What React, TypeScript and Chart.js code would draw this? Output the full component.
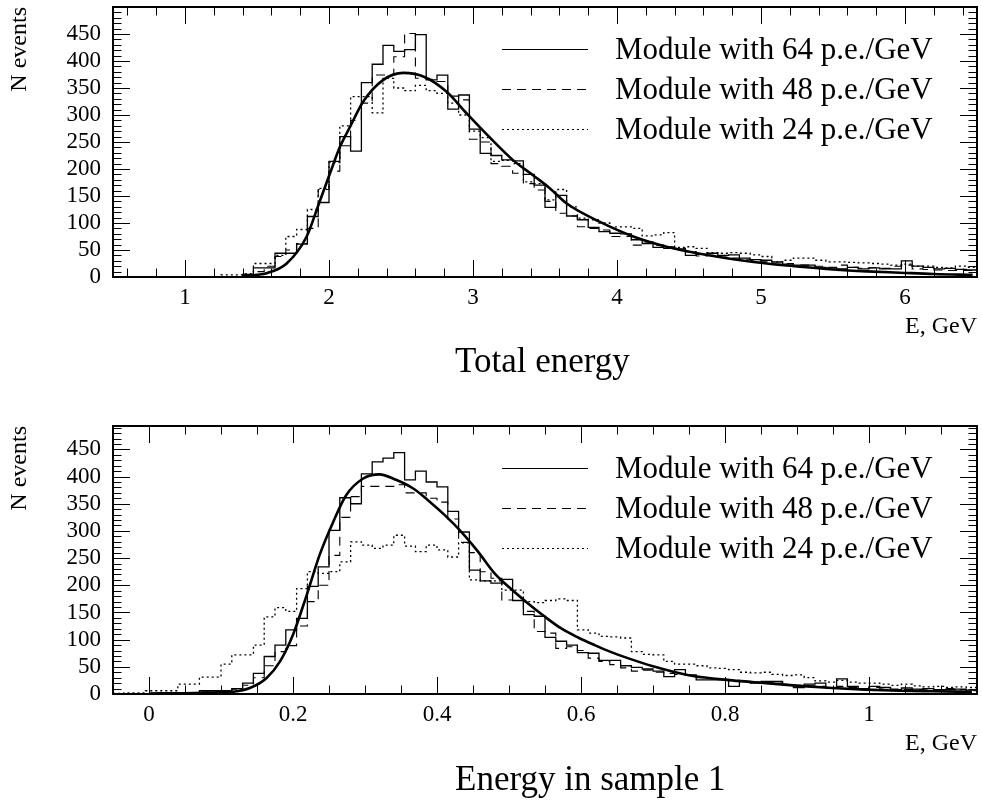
import React, { useEffect, useRef } from 'react';
import { Chart, registerables } from 'chart.js';

Chart.register(...registerables);

// ---------- common ----------
const SERIES_LABELS = ['Module with 64 p.e./GeV', 'Module with 48 p.e./GeV', 'Module with 24 p.e./GeV'];
const Y_TICKS = [0, 50, 100, 150, 200, 250, 300, 350, 400, 450];
const Y_TICK_LABELS = ['0', '50', '100', '150', '200', '250', '300', '350', '400', '450'];
const X_TITLE = 'E, GeV';
const Y_TITLE = 'N events';

// ---------- Total energy ----------
const E_TITLE = 'Total energy';
const E_BIN_LOW = 0.5;
const E_BIN_WIDTH = 0.075;
const E_X_MIN = 0.5;
const E_X_MAX = 6.5;
const E_Y_MAX = 500;
const E_X_TICKS = [1, 2, 3, 4, 5, 6];
const E_X_TICK_LABELS = ['1', '2', '3', '4', '5', '6'];
const E_X_MINOR_STEP = 0.2;

const E_64 = [
  0, 0, 0, 0, 0, 0, 0, 0, 0, 0,
  0, 0, 5, 17, 17, 44, 44, 61, 112, 138,
  214, 260, 233, 360, 394, 429, 418, 421, 449, 365,
  374, 311, 337, 274, 229, 225, 217, 215, 190, 170,
  129, 151, 113, 106, 92, 84, 81, 80, 69, 62,
  55, 53, 52, 40, 42, 44, 40, 41, 35, 32,
  31, 28, 24, 22, 22, 18, 17, 15, 18, 15,
  17, 15, 15, 30, 20, 18, 15, 16, 14, 13,
];
const E_48 = [
  0, 0, 0, 0, 0, 0, 0, 0, 0, 0,
  0, 0, 3, 10, 20, 38, 50, 62, 90, 162,
  196, 243, 290, 322, 374, 374, 408, 451, 368, 366,
  362, 335, 328, 255, 250, 210, 205, 192, 173, 161,
  140, 118, 113, 93, 90, 87, 75, 75, 59, 65,
  59, 56, 53, 47, 39, 40, 37, 35, 33, 30,
  28, 26, 25, 22, 22, 20, 18, 22, 18, 16,
  17, 16, 20, 22, 15, 14, 13, 12, 12, 12,
];
const E_24 = [
  0, 0, 0, 0, 0, 0, 0, 0, 0, 0,
  4, 4, 6, 25, 25, 40, 75, 88, 125, 164,
  212, 280, 334, 334, 304, 368, 350, 345, 355, 345,
  340, 322, 300, 270, 258, 214, 216, 210, 176, 173,
  143, 162, 130, 109, 106, 100, 93, 93, 90, 76,
  78, 82, 55, 56, 53, 45, 44, 45, 44, 41,
  38, 28, 31, 35, 35, 31, 28, 28, 27, 26,
  25, 24, 22, 24, 20, 20, 18, 17, 20, 18,
];
const E_FIT_X = [1.4, 1.5, 1.567, 1.706, 1.845, 1.926, 2.007, 2.076, 2.146, 2.238, 2.377, 2.516, 2.667, 2.817, 2.956, 3.118, 3.28, 3.419, 3.535, 3.651, 3.882, 4.113, 4.345, 4.576, 4.808, 5.04, 5.271, 5.502, 5.734, 5.965, 6.197, 6.47];
const E_FIT_Y = [1, 4, 7, 25, 75, 133, 192, 241, 278, 325, 365, 378, 370, 343, 303, 258, 216, 188, 164, 136, 102, 75, 56, 43, 33, 25, 19, 14, 10.5, 8, 5.5, 4];

// ---------- Energy in sample 1 ----------
const S_TITLE = 'Energy in sample 1';
const S_BIN_LOW = -0.05;
const S_BIN_WIDTH = 0.015;
const S_X_MIN = -0.05;
const S_X_MAX = 1.15;
const S_Y_MAX = 493;
const S_X_TICKS = [0, 0.2, 0.4, 0.6, 0.8, 1];
const S_X_TICK_LABELS = ['0', '0.2', '0.4', '0.6', '0.8', '1'];
const S_X_MINOR_STEP = 0.05;

const S_64 = [
  0, 0, 0, 0, 0, 0, 0, 0, 6, 6,
  6, 10, 20, 38, 69, 90, 118, 139, 198, 234,
  301, 361, 350, 405, 427, 434, 444, 394, 410, 390,
  381, 336, 298, 228, 208, 204, 211, 172, 146, 143,
  104, 97, 90, 76, 75, 62, 62, 52, 49, 46,
  42, 32, 45, 35, 26, 26, 26, 14, 23, 20,
  23, 23, 17, 12, 18, 20, 11, 28, 14, 10,
  14, 12, 8, 11, 9, 10, 8, 8, 9, 7,
];
const S_48 = [
  0, 0, 0, 0, 0, 0, 2, 2, 4, 5,
  5, 9, 16, 30, 52, 78, 89, 125, 170, 200,
  255, 325, 363, 382, 382, 382, 385, 370, 370, 360,
  353, 322, 279, 260, 225, 213, 173, 172, 152, 115,
  112, 84, 87, 80, 66, 60, 54, 48, 42, 44,
  40, 38, 36, 34, 30, 28, 27, 25, 24, 22,
  20, 20, 18, 16, 15, 14, 12, 14, 12, 10,
  12, 9, 9, 8, 8, 9, 7, 10, 8, 6,
];
const S_24 = [
  1, 2, 2, 6, 6, 6, 18, 18, 31, 31,
  55, 72, 72, 90, 142, 159, 152, 194, 225, 222,
  225, 243, 280, 274, 268, 274, 292, 272, 262, 274,
  265, 252, 278, 210, 208, 208, 191, 191, 170, 168,
  172, 175, 172, 118, 112, 106, 105, 103, 78, 73,
  72, 60, 55, 55, 52, 48, 47, 45, 40, 39,
  40, 36, 34, 35, 30, 24, 22, 25, 22, 20,
  20, 18, 16, 18, 15, 13, 14, 12, 13, 12,
];
const S_FIT_X = [0.0, 0.05, 0.1, 0.117, 0.14, 0.163, 0.182, 0.2, 0.219, 0.237, 0.256, 0.274, 0.297, 0.32, 0.343, 0.367, 0.387, 0.41, 0.434, 0.457, 0.48, 0.503, 0.526, 0.55, 0.572, 0.596, 0.619, 0.642, 0.665, 0.7, 0.748, 0.81, 0.857, 0.903, 0.949, 0.995, 1.042, 1.088, 1.143];
const S_FIT_Y = [1, 1.5, 3, 4, 11, 29, 60, 109, 182, 256, 317, 366, 396, 404, 394, 378, 357, 330, 298, 262, 222, 193, 167, 142, 121, 104, 90, 77, 66, 51, 35, 25, 20, 15, 11, 8, 6, 5, 4];

// ---------- styles ----------
const SERIF = '"Liberation Serif", "Times New Roman", serif';
const DASHES = [[], [9, 6], [2, 3]];
const WIDTHS = [1.3, 1.1, 1.3];
const PLOT_LEFT = 113;
const PLOT_RIGHT_PAD = 5;
const X_AXIS_H = 64;
const MAJOR_LEN = 17;
const MINOR_LEN = 8.5;

function histPoints(values: number[], low: number, width: number) {
  const pts = values.map((v, k) => ({ x: low + k * width, y: v }));
  pts.push({ x: low + values.length * width, y: values[values.length - 1] });
  return pts;
}

const rootFrame = {
  id: 'rootFrame',
  afterDatasetsDraw(chart: any, _args: any, o: any) {
    const { ctx, chartArea: a, scales } = chart;
    const x = scales.x;
    const y = scales.y;
    ctx.save();
    ctx.strokeStyle = '#000';
    ctx.lineWidth = 1;
    ctx.setLineDash([]);
    ctx.beginPath();
    const xm = o.xMinorStep;
    for (let v = Math.ceil((x.min - 1e-9) / xm) * xm; v <= x.max + 1e-9; v += xm) {
      const px = Math.round(x.getPixelForValue(v)) + 0.5;
      const isMajor = o.xMajor.some((m: number) => Math.abs(m - v) < 1e-6);
      const L = isMajor ? MAJOR_LEN : MINOR_LEN;
      ctx.moveTo(px, a.bottom); ctx.lineTo(px, a.bottom - L);
      ctx.moveTo(px, a.top); ctx.lineTo(px, a.top + L);
    }
    for (let v = 0; v <= y.max + 1e-9; v += 10) {
      const py = Math.round(y.getPixelForValue(v)) + 0.5;
      const L = v % 50 === 0 ? MAJOR_LEN : MINOR_LEN;
      ctx.moveTo(a.left, py); ctx.lineTo(a.left + L, py);
      ctx.moveTo(a.right, py); ctx.lineTo(a.right - L, py);
    }
    ctx.stroke();
    ctx.lineWidth = 2;
    ctx.strokeRect(a.left, a.top, a.right - a.left, a.bottom - a.top);

    // legend
    ctx.fillStyle = '#000';
    ctx.font = '31px ' + SERIF;
    ctx.textAlign = 'left';
    ctx.textBaseline = 'alphabetic';
    SERIES_LABELS.forEach((lab, i) => {
      const ly = a.top + 41.5 + i * 40;
      ctx.lineWidth = 1.2;
      ctx.setLineDash(DASHES[i]);
      ctx.beginPath();
      ctx.moveTo(502, Math.round(ly) + 0.5);
      ctx.lineTo(588, Math.round(ly) + 0.5);
      ctx.stroke();
      ctx.setLineDash([]);
      ctx.fillText(lab, 615, ly + 10);
    });

    // title
    ctx.font = '35px ' + SERIF;
    ctx.textAlign = 'left';
    ctx.fillText(o.title, 455, a.bottom + o.titleOffset);
    ctx.restore();
  },
};

function makeConfig(p: any) {
  const datasets: any[] = [
    {
      label: 'fit',
      data: p.fitX.map((xv: number, i: number) => ({ x: xv, y: p.fitY[i] })),
      borderColor: '#000',
      borderWidth: 2.6,
      cubicInterpolationMode: 'monotone',
      pointRadius: 0,
      fill: false,
      order: 0,
    },
  ];
  p.series.forEach((vals: number[], i: number) => {
    datasets.push({
      label: SERIES_LABELS[i],
      data: histPoints(vals, p.binLow, p.binWidth),
      stepped: 'before',
      borderColor: '#000',
      borderWidth: WIDTHS[i],
      borderDash: DASHES[i],
      pointRadius: 0,
      fill: false,
      order: 1 + i,
    });
  });
  return {
    type: 'line',
    data: { datasets },
    plugins: [rootFrame],
    options: {
      responsive: false,
      animation: false,
      events: [],
      layout: { padding: { left: 0, right: PLOT_RIGHT_PAD, top: p.top, bottom: p.bottom } },
      plugins: {
        legend: { display: false },
        tooltip: { enabled: false },
        title: { display: false },
        rootFrame: { xMajor: p.xTicks, xMinorStep: p.xMinorStep, title: p.title, titleOffset: p.titleOffset },
      },
      scales: {
        x: {
          type: 'linear',
          min: p.xMin,
          max: p.xMax,
          afterBuildTicks: (s: any) => { s.ticks = p.xTicks.map((v: number) => ({ value: v })); },
          afterFit: (s: any) => { s.height = X_AXIS_H; s.paddingLeft = 0; s.paddingRight = 0; },
          grid: { display: false, drawTicks: false },
          border: { display: false },
          ticks: {
            autoSkip: false,
            maxRotation: 0,
            padding: 7,
            color: '#000',
            font: { family: SERIF, size: 23 },
            callback: (_v: any, i: number) => p.xTickLabels[i],
          },
          title: { display: true, text: X_TITLE, align: 'end', color: '#000', font: { family: SERIF, size: 24 }, padding: 0 },
        },
        y: {
          type: 'linear',
          min: 0,
          max: p.yMax,
          afterBuildTicks: (s: any) => { s.ticks = Y_TICKS.map((v) => ({ value: v })); },
          afterFit: (s: any) => { s.width = PLOT_LEFT; s.paddingTop = 0; s.paddingBottom = 0; },
          grid: { display: false, drawTicks: false },
          border: { display: false },
          ticks: {
            autoSkip: false,
            padding: 12,
            color: '#000',
            font: { family: SERIF, size: 23 },
            callback: (_v: any, i: number) => Y_TICK_LABELS[i],
          },
          title: { display: true, text: Y_TITLE, align: 'end', color: '#000', font: { family: SERIF, size: 24 }, padding: { top: 5.6, bottom: 0 } },
        },
      },
    },
  };
}

function Plot({ params, width, height }: { params: any; width: number; height: number }) {
  const ref = useRef<HTMLCanvasElement>(null);
  useEffect(() => {
    const chart = new Chart(ref.current as HTMLCanvasElement, makeConfig(params) as any);
    return () => chart.destroy();
  }, [params]);
  return <canvas ref={ref} width={width} height={height} style={{ display: 'block', width, height }} />;
}

const TOP_PARAMS = {
  series: [E_64, E_48, E_24], binLow: E_BIN_LOW, binWidth: E_BIN_WIDTH,
  fitX: E_FIT_X, fitY: E_FIT_Y, xMin: E_X_MIN, xMax: E_X_MAX, yMax: E_Y_MAX,
  xTicks: E_X_TICKS, xTickLabels: E_X_TICK_LABELS, xMinorStep: E_X_MINOR_STEP,
  title: E_TITLE, titleOffset: 95, top: 7, bottom: 400 - 277 - X_AXIS_H,
};
const BOTTOM_PARAMS = {
  series: [S_64, S_48, S_24], binLow: S_BIN_LOW, binWidth: S_BIN_WIDTH,
  fitX: S_FIT_X, fitY: S_FIT_Y, xMin: S_X_MIN, xMax: S_X_MAX, yMax: S_Y_MAX,
  xTicks: S_X_TICKS, xTickLabels: S_X_TICK_LABELS, xMinorStep: S_X_MINOR_STEP,
  title: S_TITLE, titleOffset: 96, top: 26, bottom: 402 - 294 - X_AXIS_H,
};

export default function App() {
  useEffect(() => {
    document.body.style.margin = '0';
    document.body.style.background = '#fff';
  }, []);
  return (
    <div style={{ position: 'absolute', left: 0, top: 0, width: 982, height: 802, background: '#fff' }}>
      <Plot params={TOP_PARAMS} width={982} height={400} />
      <Plot params={BOTTOM_PARAMS} width={982} height={402} />
    </div>
  );
}
